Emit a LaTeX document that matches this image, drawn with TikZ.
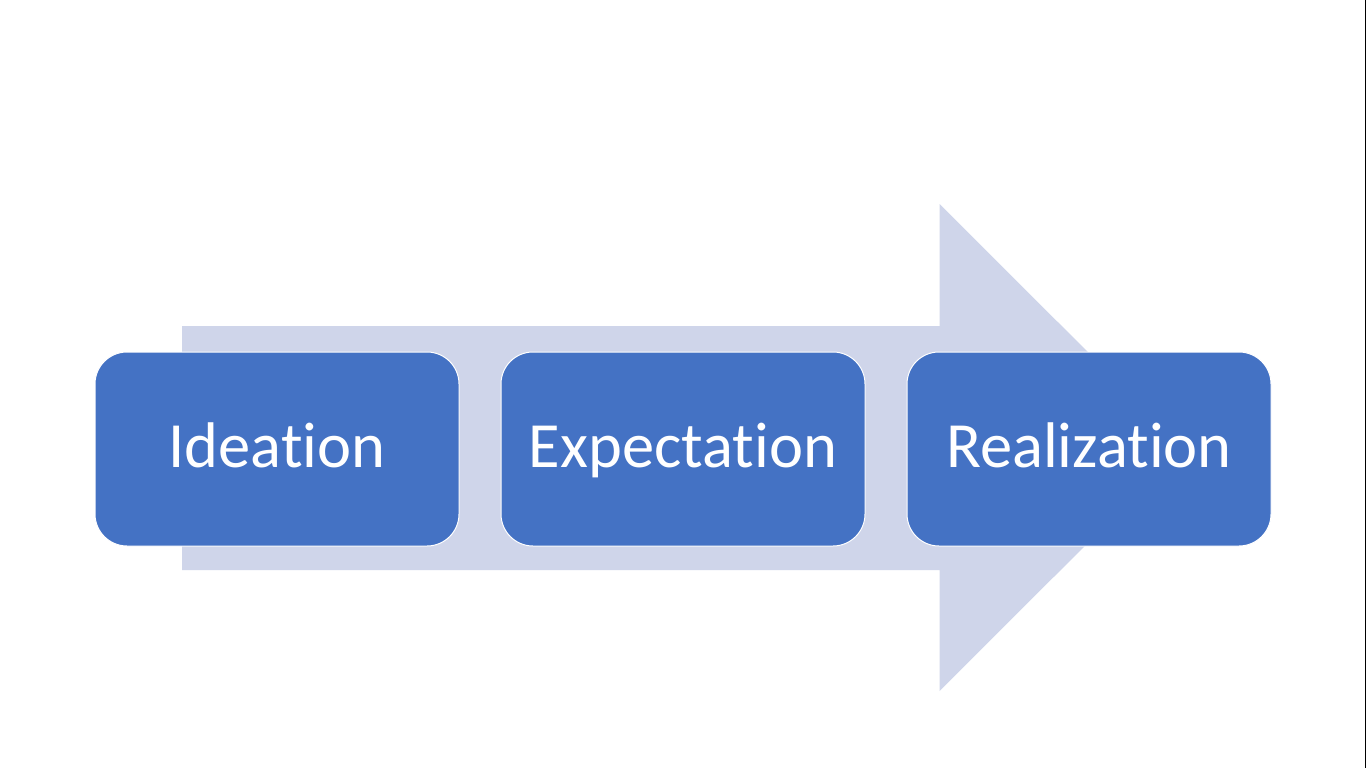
\documentclass[tikz,border=0pt]{standalone}
\usepackage{fontspec}
\setmainfont{Carlito}[Ligatures={NoCommon,NoContextual}]
\begin{document}
\begin{tikzpicture}[x=1pt,y=-1pt,
  stagebox/.style={draw=white, line width=1pt, fill=boxblue, rounded corners=32pt},
  stagetext/.style={text=white, font=\fontsize{64.5}{70}\selectfont, anchor=base, inner sep=0pt}]
\definecolor{boxblue}{HTML}{4472C4}
\definecolor{arrowfill}{HTML}{CFD5EA}
\useasboundingbox (0,0) rectangle (1366,768);
\fill[white] (0,0) rectangle (1366,768);
\fill[black] (1364.5,0) rectangle (1366,768);
% big arrow
\fill[arrowfill] (182,326) -- (939.5,326) -- (939.5,204) -- (1183.5,447.5) -- (939.5,691) -- (939.5,570) -- (182,570) -- cycle;
% boxes
\draw[stagebox] (95,352) rectangle (459,546);
\draw[stagebox] (501,352) rectangle (865,546);
\draw[stagebox] (907,352) rectangle (1271,546);
\node[stagetext] (ideation) at (277,467) {Ideation};
\node[stagetext] (expectation) at (683,467) {Expectation};
\node[stagetext] (realization) at (1089,467) {Realization};
\end{tikzpicture}
\end{document}
